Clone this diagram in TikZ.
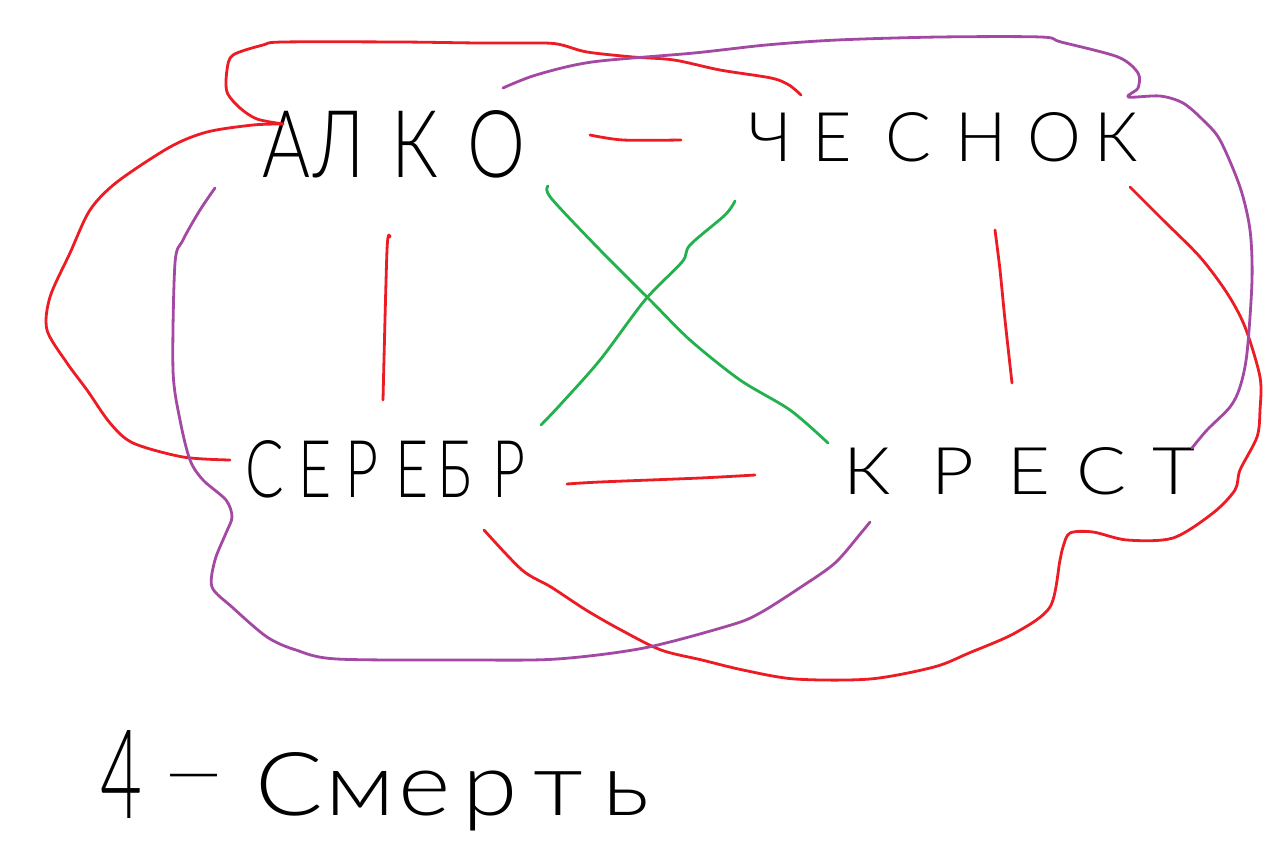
\documentclass[tikz,border=0pt]{standalone}
\usepackage{fontspec}
\usepackage{graphicx}
\newfontfamily\hand{Lato Light}
\definecolor{pred}{RGB}{237,28,36}
\definecolor{ppurple}{RGB}{163,73,164}
\definecolor{pgreen}{RGB}{34,177,76}
\newcommand\gp[1]{\hspace{#1em}}
\begin{document}
\begin{tikzpicture}[x=1pt,y=-1pt,
  word/.style={inner sep=0pt, anchor=base west, font=\hand\fontsize{60}{60}\selectfont},
  stroke/.style={line width=2.8pt, line cap=round, line join=round},
  redline/.style={stroke, draw=pred},
  purpline/.style={stroke, draw=ppurple},
  greenline/.style={stroke, draw=pgreen}]
\useasboundingbox[fill=white] (0,0) rectangle (1279,852);

% words
\node[word] (alko)   at (262,177) {\resizebox{263pt}{67pt}{А\gp{0.05}Л\gp{0.35}К\gp{0.4}О}};
\node[word] (chesnok) at (748,161) {\resizebox{390pt}{49pt}{Ч\gp{0.3}Е\gp{0.5}С\gp{0.35}Н\gp{0.3}О\gp{0.2}К}};
\node[word] (serebr) at (245,497) {\resizebox{280pt}{57pt}{С\gp{0.25}Е\gp{0.25}Р\gp{0.3}Е\gp{0.15}Б\gp{0.35}Р}};
\node[word] (krest)  at (843,494) {\resizebox{352pt}{47pt}{К\gp{0.55}Р\gp{0.45}Е\gp{0.35}С\gp{0.35}Т}};
\node[word] (four)   at (100,818) {\resizebox{42pt}{88pt}{4}};
\node[word] (dash)   at (165,796) {\resizebox{57pt}{!}{—}};
\node[word] (smert)  at (255,815) {\resizebox{395pt}{63pt}{С\gp{0.03}м\gp{0.03}е\gp{0.12}р\gp{0.15}т\gp{0.2}ь}};

% endpoints
\coordinate (aL)  at (283,124);
\coordinate (sL)  at (230,460);
\coordinate (cT)  at (801,95);
\coordinate (aTR) at (503,88);
\coordinate (kTR) at (1192,448);
\coordinate (cR)  at (1130,187);
\coordinate (sB)  at (484,530);
\coordinate (aBL) at (215,188);
\coordinate (kBL) at (870,522);
\coordinate (aG)  at (548,186);
\coordinate (kG)  at (828,443);
\coordinate (cG)  at (735,201);
\coordinate (sG)  at (541,425);
\coordinate (aRt) at (590,135);
\coordinate (cLt) at (681,140);
\coordinate (aBt) at (390,237);
\coordinate (sTp) at (383,400);
\coordinate (cBt) at (995,230);
\coordinate (kTp) at (1012,383);
\coordinate (sRt) at (567,484);
\coordinate (kLt) at (755,475);

% short red connectors
\draw[redline] plot[smooth] coordinates {(aRt) (623,140) (cLt)};
\draw[redline] plot[smooth] coordinates {(aBt) (387,250) (sTp)};
\draw[redline] plot[smooth] coordinates {(cBt) (1000,270) (1005,320) (kTp)};
\draw[redline] plot[smooth] coordinates {(sRt) (600,482) (700,478) (kLt)};

% green diagonals
\draw[greenline] plot[smooth] coordinates {(aG) (551,198) (600,250) (650,300) (690,340) (740,380) (790,410) (kG)};
\draw[greenline] plot[smooth] coordinates {(cG) (725,215) (690,245) (682,262) (645,300) (600,360) (560,405) (sG)};

% red outer loops
\draw[redline] plot[smooth] coordinates {(aL) (253,125) (207,132) (170,147) (117,182) (90,210) (70,253) (50,297) (47,330) (67,363) (87,390) (110,423) (133,443) (183,457) (sL)};
\draw[redline] plot[smooth] coordinates {(aL) (257,119) (240,108) (227,92) (227,70) (233,55) (263,45) (283,42) (400,42) (480,43) (544,43) (562,45) (587,52) (633,57) (674,60) (720,70) (771,78) (789,85) (cT)};
\draw[redline] plot[smooth] coordinates {(cR) (1163,220) (1200,257) (1227,293) (1245,327) (1260,377) (1260,410) (1257,437) (1240,470) (1235,490) (1213,513) (1173,538) (1127,540) (1093,532) (1070,533) (1063,547) (1060,560) (1050,607) (1015,633) (969,653) (934,667) (870,679) (795,679) (743,670) (702,660) (661,650) (621,630) (586,610) (551,587) (522,570) (sB)};

% purple outer loops
\draw[purpline] plot[smooth] coordinates {(aTR) (536,75) (592,62) (694,53) (766,45) (837,40) (939,37) (1041,37) (1061,42) (1118,57) (1138,73) (1138,88) (1128,97) (1160,96) (1183,103) (1203,120) (1220,140) (1240,187) (1250,230) (1252,280) (1247,353) (1240,387) (1230,407) (1207,430) (kTR)};
\draw[purpline] plot[smooth] coordinates {(aBL) (200,210) (183,240) (175,263) (173,370) (180,420) (190,460) (203,480) (226,500) (232,517) (226,533) (215,560) (212,587) (232,607) (267,637) (296,650) (337,659) (470,660) (557,659) (644,648) (731,625) (760,613) (801,587) (835,563) (861,533) (kBL)};
\end{tikzpicture}
\end{document}
